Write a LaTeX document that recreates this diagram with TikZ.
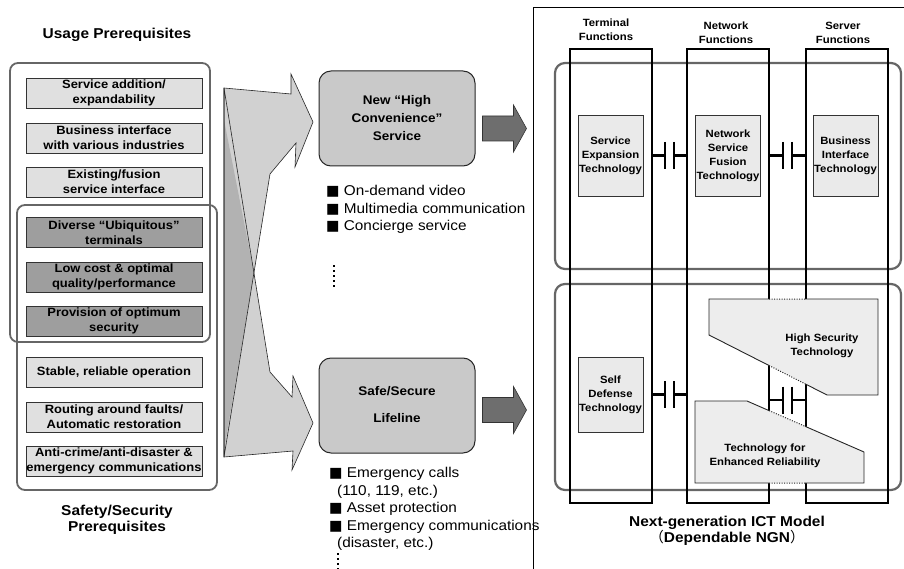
\documentclass[tikz,border=0pt]{standalone}
\usepackage{fontspec}
\setmainfont[FakeStretch=1.08]{Liberation Sans}
\newfontfamily\cjk{Noto Sans CJK JP}
\newfontfamily\symfont{DejaVu Sans}
\usetikzlibrary{calc}

\definecolor{lightbox}{gray}{0.88}
\definecolor{darkbox}{gray}{0.62}
\definecolor{framegray}{gray}{0.40}
\definecolor{ribbongray}{gray}{0.82}
\definecolor{ribbonback}{gray}{0.70}
\definecolor{servicegray}{gray}{0.79}
\definecolor{arrowgray}{gray}{0.43}
\definecolor{techgray}{gray}{0.93}

\newcommand{\bsq}{{\symfont ■}}
\newcommand{\upribbon}{(224,457) -- (224,88) -- (291,94) -- (291,74) -- (313,122) -- (295,167) -- (296,143) -- (270,174) -- cycle}
\newcommand{\downribbon}{(224,88) -- (270,372) -- (292,397) -- (293,376) -- (313,423) -- (292,470) -- (293,451) -- (224,457) -- cycle}
\newcommand{\capjoin}[3]{%
  \path ($(#1.east |- #3)!.5!(#2.west |- #3)$) coordinate (capm);
  \draw[capline] (#1.east |- #3) -- ([xshift=-4.5]capm) ++(0,-13.5) -- ++(0,27)
    ([xshift=4.5]capm) ++(0,-13.5) -- ++(0,27) ([xshift=4.5]capm) -- (#2.west |- #3);}

\begin{document}
\begin{tikzpicture}[x=1pt,y=-1pt,
  title/.style={align=center, inner sep=0pt, font=\fontsize{14.3}{16}\selectfont\bfseries},
  prereq/.style={draw=black!80, line width=0.9pt, minimum width=176pt, minimum height=30pt,
    inner sep=0pt, align=center, font=\fontsize{12}{14.7}\selectfont\bfseries},
  group/.style={draw=framegray, line width=1.8pt, rounded corners=8pt},
  ribbonline/.style={draw=black!85, line width=0.6pt},
  service/.style={draw=black!85, fill=servicegray, line width=1pt, rounded corners=12pt,
    minimum width=156pt, minimum height=95pt, align=center,
    font=\fontsize{12.5}{18}\selectfont\bfseries},
  bullets/.style={align=left, inner sep=0pt, font=\fontsize{14.2}{17.5}\selectfont},
  dots/.style={line width=2.2pt, dash pattern=on 2.2pt off 2.8pt},
  darkarrow/.style={fill=arrowgray, draw=black!80, line width=0.6pt},
  column/.style={draw, line width=2pt, minimum width=82pt, minimum height=454pt, inner sep=0pt},
  colhead/.style={align=center, inner sep=0pt, font=\fontsize{10.5}{14}\selectfont\bfseries},
  techgroup/.style={draw=framegray, line width=2.2pt, rounded corners=10pt},
  tech/.style={draw=black!80, fill=lightbox!70!white, line width=0.8pt, minimum width=65pt,
    minimum height=81pt, inner sep=0pt, align=center, font=\fontsize{10.5}{14}\selectfont\bfseries},
  techtext/.style={align=center, inner sep=0pt, font=\fontsize{10.5}{14}\selectfont\bfseries},
  techedge/.style={draw=black!85, line width=0.9pt},
  hidden/.style={draw=black!85, line width=1pt, dash pattern=on 1pt off 1.5pt},
  capline/.style={line width=2.4pt}]
 \useasboundingbox (0,0) rectangle (904,569);

 \node[title] (usage)  at (117,35)  {Usage Prerequisites};
 \node[title] (safety) at (117,520) {Safety/Security\\Prerequisites};

 \draw[group] (10,63) rectangle (210,342);
 \draw[group] (17,205) rectangle (217,490);

 \node[prereq, fill=lightbox] (expand)    at (114,93)    {Service addition/\\expandability};
 \node[prereq, fill=lightbox] (bizif)     at (114,138)   {Business interface\\with various industries};
 \node[prereq, fill=lightbox] (fusionif)  at (114,182)   {Existing/fusion\\service interface};
 \node[prereq, fill=darkbox]  (ubiq)      at (114,232.5) {Diverse “Ubiquitous”\\terminals};
 \node[prereq, fill=darkbox]  (lowcost)   at (114,277)   {Low cost \& optimal\\quality/performance};
 \node[prereq, fill=darkbox]  (optsec)    at (114,321)   {Provision of optimum\\security};
 \node[prereq, fill=lightbox] (stable)    at (114,372.5) {Stable, reliable operation};
 \node[prereq, fill=lightbox] (routing)   at (114,417)   {Routing around faults/\\Automatic restoration};
 \node[prereq, fill=lightbox] (anticrime) at (114,461)   {Anti-crime/anti-disaster \&\\emergency communications};

 % twisted ribbon of arrows
 \fill[ribbongray] \upribbon;
 \fill[ribbongray] \downribbon;
 \fill[ribbonback] (224,120) -- (254,273) -- (224,450) -- cycle;
 \draw[ribbonline] \upribbon;
 \draw[ribbonline] \downribbon;

 \node[service] (convenient) at (397,118.5) {New “High\\Convenience”\\Service};
 \node[service] (lifeline)   at (397,405.5)
   {\raisebox{-4pt}{\begin{tabular}{@{}c@{}}Safe/Secure\\[9pt]Lifeline\end{tabular}}};

 \node[bullets, anchor=north west] (uselist) at (326,185.5)
   {\bsq\ On-demand video\\\bsq\ Multimedia communication\\\bsq\ Concierge service};
 \node[bullets, anchor=north west] (safelist) at (329,467.5)
   {\bsq\ Emergency calls\\\hspace*{8pt}(110, 119, etc.)\\\bsq\ Asset protection\\\bsq\ Emergency communications\\\hspace*{8pt}(disaster, etc.)};
 \draw[dots] (334,265) -- (334,288);
 \draw[dots] (338,553) -- (338,571);

 \filldraw[darkarrow] ([shift={(7,-2.5)}]convenient.east) -- ++(31,0) -- ++(0,-11) -- ++(13,23.5)
   -- ++(-13,23.5) -- ++(0,-11) -- ++(-31,0) -- cycle;
 \filldraw[darkarrow] ([shift={(7,-8)}]lifeline.east) -- ++(31,0) -- ++(0,-11) -- ++(13,23.5)
   -- ++(-13,23.5) -- ++(0,-11) -- ++(-31,0) -- cycle;

 % next-generation model
 \draw[line width=1pt] (533,571) -- (533,8) -- (906,8);
 \draw[techgroup] (555,63) rectangle (901,269);
 \draw[techgroup] (555,284) rectangle (901,490);

 \node[column] (terminal) at (611,276)   {};
 \node[column] (network)  at (728,276)   {};
 \node[column] (server)   at (846.5,276) {};

 \node[colhead] (termhead) at (606,30) {Terminal\\Functions};
 \node[colhead] (nethead)  at (726,33) {Network\\Functions};
 \node[colhead] (servhead) at (843,33) {Server\\Functions};

 \node[tech] (svcexp)   at (610.5,155.5) {Service\\Expansion\\Technology};
 \node[tech] (nsfusion) at (728,155.5)   {Network\\Service\\Fusion\\Technology};
 \node[tech] (bizift)   at (845.5,155.5) {Business\\Interface\\Technology};
 \node[tech, minimum height=75pt] (selfdef) at (610.5,394.5) {Self\\Defense\\Technology};

 % shapes spanning network and server functions
 \fill[techgray] (709,299) -- (878,299) -- (878,395) -- (827,395) -- (709,335) -- cycle;
 \fill[techgray] (695,401) -- (747,401) -- (864,452) -- (864,483) -- (695,483) -- cycle;
 \draw[techedge] (769,299) -- (709,299) -- (709,335) -- (769,365.5);
 \draw[techedge] (805,299) -- (878,299) -- (878,395) -- (827,395) -- (805,383.8);
 \draw[hidden] (769,299) -- (805,299) (769,365.5) -- (805,383.8);
 \draw[techedge] (769,410.6) -- (747,401) -- (695,401) -- (695,483) -- (769,483);
 \draw[techedge] (805,426.3) -- (864,452) -- (864,483) -- (805,483);
 \draw[hidden] (769,410.6) -- (805,426.3) (769,483) -- (805,483);
 \node[techtext] (hstext) at (822,346)   {High Security\\Technology};
 \node[techtext] (ertext) at (765,455.5) {Technology for\\Enhanced Reliability};

 \coordinate (hsjoin) at (787,400);
 \capjoin{terminal}{network}{svcexp}
 \capjoin{network}{server}{svcexp}
 \capjoin{terminal}{network}{selfdef}
 \capjoin{network}{server}{hsjoin}

 \node[title] (ngn) at (727,531) {Next-generation ICT Model\\{\cjk\mdseries （}Dependable NGN{\cjk\mdseries ）}};
\end{tikzpicture}
\end{document}
